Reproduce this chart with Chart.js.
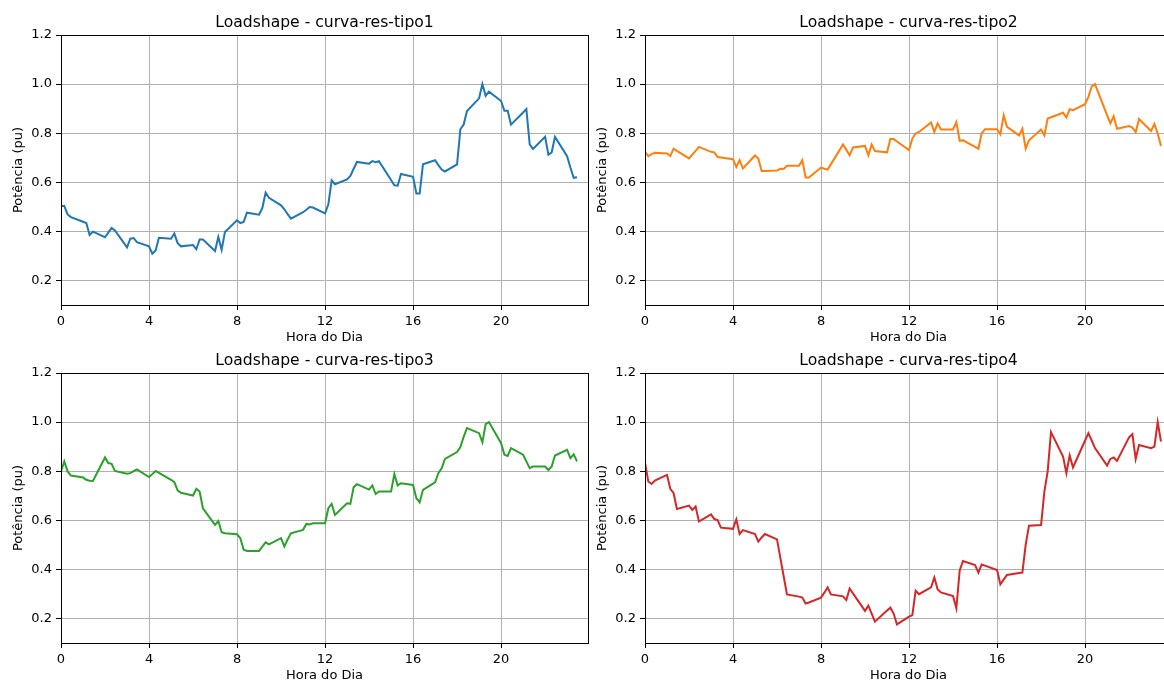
<!DOCTYPE html>
<html>
<head>
<meta charset="utf-8">
<script src="https://cdn.jsdelivr.net/npm/chart.js@4.4.1/dist/chart.umd.min.js"></script>
<style>
  html, body { margin: 0; padding: 0; background: #fff; }
  body { width: 1164px; height: 682px; overflow: hidden; position: relative; }
  canvas { position: absolute; }
</style>
</head>
<body>
<canvas id="g1" width="600" height="345" style="left:0px;top:0px"></canvas>
<canvas id="g2" width="600" height="345" style="left:584px;top:0px"></canvas>
<canvas id="g3" width="600" height="345" style="left:0px;top:338px"></canvas>
<canvas id="g4" width="600" height="345" style="left:584px;top:338px"></canvas>
<script>
// Hora do dia (h + minutos/100), um ponto a cada 15 min
const horas = [
  0, 0.15, 0.30, 0.45,   1, 1.15, 1.30, 1.45,   2, 2.15, 2.30, 2.45,   3, 3.15, 3.30, 3.45,
  4, 4.15, 4.30, 4.45,   5, 5.15, 5.30, 5.45,   6, 6.15, 6.30, 6.45,   7, 7.15, 7.30, 7.45,
  8, 8.15, 8.30, 8.45,   9, 9.15, 9.30, 9.45,  10, 10.15, 10.30, 10.45, 11, 11.15, 11.30, 11.45,
 12, 12.15, 12.30, 12.45, 13, 13.15, 13.30, 13.45, 14, 14.15, 14.30, 14.45, 15, 15.15, 15.30, 15.45,
 16, 16.15, 16.30, 16.45, 17, 17.15, 17.30, 17.45, 18, 18.15, 18.30, 18.45, 19, 19.15, 19.30, 19.45,
 20, 20.15, 20.30, 20.45, 21, 21.15, 21.30, 21.45, 22, 22.15, 22.30, 22.45, 23, 23.15, 23.30, 23.45
];

// Potência (pu) de cada curva residencial
const tipo1 = [
  0.503, 0.503, 0.469, 0.458,  0.439, 0.434, 0.385, 0.399,  0.376, 0.395, 0.414, 0.404,  0.335, 0.370, 0.373, 0.356,
  0.339, 0.309, 0.322, 0.374,  0.370, 0.391, 0.352, 0.339,  0.344, 0.327, 0.367, 0.367,  0.320, 0.377, 0.325, 0.397,
  0.445, 0.434, 0.438, 0.476,  0.468, 0.495, 0.558, 0.537,  0.506, 0.490, 0.470, 0.452,  0.478, 0.488, 0.499, 0.497,
  0.473, 0.510, 0.608, 0.592,  0.612, 0.626, 0.655, 0.683,  0.676, 0.686, 0.682, 0.686,  0.609, 0.588, 0.586, 0.634,
  0.622, 0.554, 0.554, 0.673,  0.690, 0.670, 0.652, 0.644,  0.673, 0.816, 0.835, 0.890,  0.942, 1.000, 0.952, 0.969,
  0.931, 0.891, 0.891, 0.835,  0.884, 0.898, 0.754, 0.736,  0.785, 0.712, 0.722, 0.785,  0.706, 0.660, 0.618, 0.620
];
const tipo2 = [
  0.724, 0.706, 0.715, 0.720,  0.717, 0.707, 0.737, 0.728,  0.697, 0.713, 0.728, 0.744,  0.724, 0.722, 0.703, 0.701,
  0.694, 0.662, 0.690, 0.656,  0.709, 0.697, 0.646, 0.646,  0.648, 0.655, 0.654, 0.667,  0.667, 0.690, 0.619, 0.619,
  0.660, 0.655, 0.652, 0.674,  0.754, 0.732, 0.710, 0.742,  0.748, 0.710, 0.754, 0.727,  0.722, 0.776, 0.776, 0.766,
  0.731, 0.778, 0.799, 0.805,  0.844, 0.805, 0.840, 0.815,  0.815, 0.845, 0.769, 0.771,  0.744, 0.737, 0.799, 0.816,
  0.816, 0.795, 0.873, 0.826,  0.791, 0.818, 0.737, 0.771,  0.815, 0.791, 0.860, 0.865,  0.883, 0.864, 0.898, 0.894,
  0.918, 0.948, 0.990, 1.000,  0.874, 0.840, 0.869, 0.818,  0.829, 0.823, 0.804, 0.858,  0.809, 0.838, 0.799, 0.748
];
const tipo3 = [
  0.799, 0.840, 0.799, 0.782,  0.774, 0.765, 0.761, 0.760,  0.856, 0.833, 0.830, 0.801,  0.790, 0.792, 0.800, 0.807,
  0.776, 0.788, 0.801, 0.793,  0.765, 0.755, 0.722, 0.712,  0.701, 0.728, 0.717, 0.649,  0.581, 0.597, 0.551, 0.547,
  0.543, 0.527, 0.480, 0.475,  0.475, 0.493, 0.510, 0.502,  0.527, 0.493, 0.522, 0.547,  0.561, 0.585, 0.583, 0.588,
  0.588, 0.649, 0.667, 0.622,  0.669, 0.667, 0.735, 0.747,  0.725, 0.742, 0.707, 0.717,  0.717, 0.788, 0.742, 0.751,
  0.744, 0.690, 0.673, 0.724,  0.755, 0.792, 0.812, 0.850,  0.878, 0.898, 0.940, 0.976,  0.955, 0.918, 0.992, 1.000,
  0.914, 0.867, 0.862, 0.894,  0.867, 0.840, 0.812, 0.819,  0.819, 0.805, 0.819, 0.864,  0.887, 0.853, 0.869, 0.840
];
const tipo4 = [
  0.835, 0.758, 0.748, 0.762,  0.785, 0.728, 0.710, 0.646,  0.660, 0.642, 0.656, 0.595,  0.624, 0.605, 0.601, 0.570,
  0.565, 0.604, 0.544, 0.560,  0.544, 0.513, 0.530, 0.544,  0.522, 0.447, 0.373, 0.298,  0.289, 0.285, 0.261, 0.265,
  0.285, 0.305, 0.327, 0.298,  0.290, 0.275, 0.322, 0.302,  0.231, 0.252, 0.220, 0.187,  0.232, 0.244, 0.220, 0.176,
  0.207, 0.214, 0.313, 0.299,  0.327, 0.367, 0.318, 0.306,  0.291, 0.241, 0.395, 0.434,  0.418, 0.387, 0.420, 0.415,
  0.397, 0.339, 0.358, 0.377,  0.385, 0.387, 0.500, 0.578,  0.581, 0.717, 0.799, 0.959,  0.860, 0.792, 0.864, 0.815,
  0.925, 0.955, 0.925, 0.894,  0.823, 0.850, 0.856, 0.842,  0.938, 0.951, 0.850, 0.907,  0.894, 0.900, 1.000, 0.921
];

const marcasX = [0, 4, 8, 12, 16, 20];
const marcasY = [0.2, 0.4, 0.6, 0.8, 1.0, 1.2];

const fonte = 'DejaVu Sans, Verdana, sans-serif';

// Moldura preta em volta da área do gráfico e título centrado sobre ela
const moldura = {
  id: 'moldura',
  afterDatasetsDraw(chart, args, opts) {
    const { ctx, chartArea: a } = chart;
    ctx.save();
    ctx.strokeStyle = '#000';
    ctx.lineWidth = 1;
    ctx.strokeRect(Math.round(a.left) + 0.5, Math.round(a.top) + 0.5,
                   Math.round(a.right - a.left), Math.round(a.bottom - a.top));
    ctx.fillStyle = '#000';
    ctx.font = '15.6px ' + fonte;
    ctx.textAlign = 'center';
    ctx.textBaseline = 'alphabetic';
    ctx.fillText(opts.texto, (a.left + a.right) / 2, a.top - 7.8);
    ctx.restore();
  }
};

function criarGrafico(id, titulo, valores, cor) {
  new Chart(document.getElementById(id), {
    type: 'line',
    data: {
      datasets: [{
        data: horas.map((h, i) => ({ x: h, y: valores[i] })),
        borderColor: cor,
        borderWidth: 2,
        pointRadius: 0,
        tension: 0,
        fill: false
      }]
    },
    options: {
      responsive: false,
      animation: false,
      devicePixelRatio: 1,
      layout: { padding: { left: 0, right: 12, top: 35, bottom: 0 } },
      plugins: {
        legend: { display: false },
        tooltip: { enabled: false },
        title: { display: false },
        moldura: { texto: titulo }
      },
      scales: {
        x: {
          type: 'linear',
          min: 0,
          max: 23.95,
          afterBuildTicks: ax => { ax.ticks = marcasX.map(v => ({ value: v })); },
          afterFit: ax => { ax.height = 40; },
          grid: { color: '#b0b0b0', lineWidth: 1, tickColor: '#000', tickLength: 5, drawTicks: true },
          border: { display: false },
          ticks: {
            color: '#000', font: { family: fonte, size: 13 }, padding: 4,
            maxRotation: 0, autoSkip: false, callback: v => String(v)
          },
          title: {
            display: true, text: 'Hora do Dia', color: '#000',
            font: { family: fonte, size: 13 }, padding: { top: 0, bottom: 0 }
          }
        },
        y: {
          min: 0.1,
          max: 1.2,
          afterBuildTicks: ax => { ax.ticks = marcasY.map(v => ({ value: v })); },
          afterFit: ax => { ax.width = 61; },
          grid: { color: '#b0b0b0', lineWidth: 1, tickColor: '#000', tickLength: 5, drawTicks: true },
          border: { display: false },
          ticks: {
            color: '#000', font: { family: fonte, size: 13 }, padding: 4,
            callback: v => Number(v).toFixed(1)
          },
          title: {
            display: true, text: 'Potência (pu)', color: '#000',
            font: { family: fonte, size: 13 }, padding: { top: 11, bottom: 0 }
          }
        }
      }
    },
    plugins: [moldura]
  });
}

criarGrafico('g1', 'Loadshape - curva-res-tipo1', tipo1, '#1f77b4');
criarGrafico('g2', 'Loadshape - curva-res-tipo2', tipo2, '#ff7f0e');
criarGrafico('g3', 'Loadshape - curva-res-tipo3', tipo3, '#2ca02c');
criarGrafico('g4', 'Loadshape - curva-res-tipo4', tipo4, '#d62728');
</script>
</body>
</html>
